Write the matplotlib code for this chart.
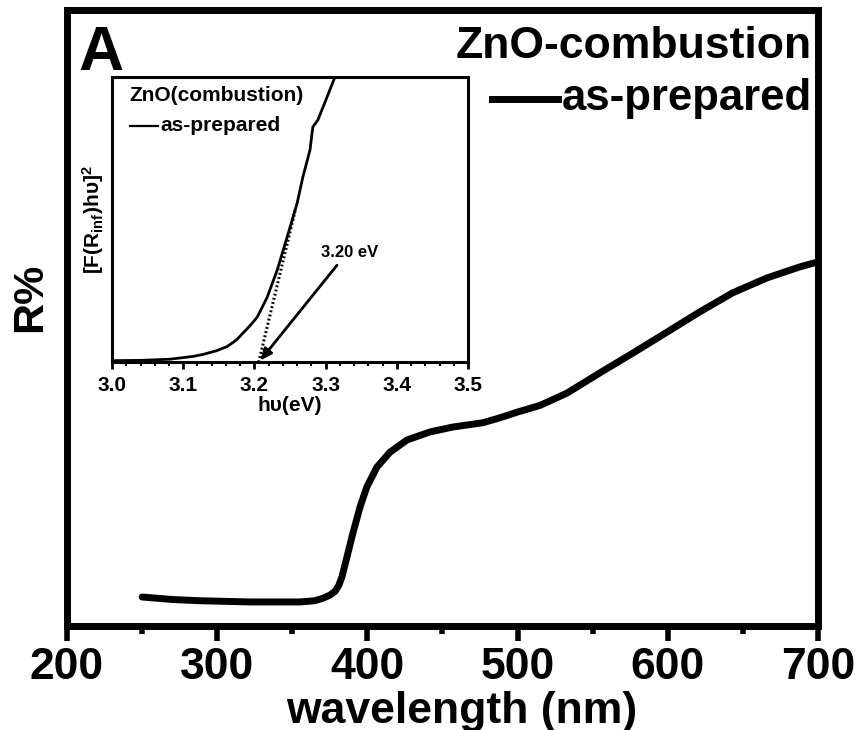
import numpy as np
import matplotlib
matplotlib.use("Agg")
import matplotlib.pyplot as plt
from matplotlib.ticker import MultipleLocator, NullLocator, FormatStrFormatter

plt.rcParams['font.family'] = ['Liberation Sans', 'DejaVu Sans']
plt.rcParams['font.weight'] = 'bold'
plt.rcParams['mathtext.fontset'] = 'custom'
plt.rcParams['mathtext.rm'] = 'Liberation Sans:bold'
plt.rcParams['mathtext.default'] = 'rm'

# main spectrum: wavelength (nm) vs R%
wavelength = [250, 270, 288, 305, 322, 340, 355, 365, 370.4, 375, 378.4, 381,
              383.1, 386.4, 390.4, 395.1, 399.7, 406.4, 415.0, 426.4, 441.7,
              457.0, 477.0, 488.3, 499.6, 514.9, 532.9, 554.9, 576.8, 599.5,
              621.4, 643.4, 666.1, 688.0, 700]
reflect = [4.7, 4.3, 4.1, 4.0, 3.9, 3.9, 3.9, 4.1, 4.5, 5.0, 5.6, 6.6,
           8.0, 11.2, 15.1, 19.3, 22.6, 25.8, 28.2, 30.2, 31.5,
           32.3, 33.0, 33.8, 34.7, 35.8, 37.8, 41.1, 44.3, 47.7,
           51.0, 54.1, 56.5, 58.3, 59.1]

# inset: Kubelka-Munk plot
hv = [3.000, 3.040, 3.081, 3.114, 3.128, 3.147, 3.162, 3.175, 3.184, 3.195,
      3.204, 3.218, 3.232, 3.246, 3.260, 3.268, 3.278, 3.282, 3.289, 3.302,
      3.313, 3.320]
km = [0.005, 0.006, 0.010, 0.020, 0.027, 0.040, 0.055, 0.078, 0.102, 0.131,
      0.158, 0.228, 0.323, 0.439, 0.558, 0.649, 0.744, 0.825, 0.849, 0.930,
      1.000, 1.040]
tangent_x = [3.206, 3.258]
tangent_y = [0.0, 0.54]
band_gap = 3.20

fig = plt.figure(figsize=(8.65, 7.3), dpi=100)
ax = fig.add_axes([0.0775, 0.1425, 0.868, 0.8438])
ax.plot(wavelength, reflect, color='black', lw=5, solid_capstyle='round',
        solid_joinstyle='round')
ax.set_xlim(200, 700)
ax.set_ylim(0, 100)
ax.xaxis.set_major_locator(MultipleLocator(100))
ax.xaxis.set_minor_locator(MultipleLocator(50))
ax.yaxis.set_major_locator(NullLocator())
for s in ax.spines.values():
    s.set_linewidth(5)
ax.tick_params(axis='x', which='major', direction='out', length=11, width=4,
               labelsize=32, pad=4)
ax.tick_params(axis='x', which='minor', direction='out', length=6, width=4)
for lab in ax.get_xticklabels():
    lab.set_fontweight('bold')
ax.set_xlabel('wavelength (nm)', fontsize=32, fontweight='bold')
ax.xaxis.set_label_coords(0.526, -0.105)
ax.set_ylabel('R%', fontsize=31, fontweight='bold')
ax.yaxis.set_label_coords(-0.022, 0.534)

ax.text(0.015, 0.9026, 'A', transform=ax.transAxes, fontsize=45,
        fontweight='bold', ha='left', va='baseline')
ax.text(0.992, 0.922, 'ZnO-combustion', transform=ax.transAxes, fontsize=32,
        fontweight='bold', ha='right', va='baseline')
ax.plot([0.566, 0.654], [0.8555, 0.8555], transform=ax.transAxes,
        color='black', lw=5)
ax.text(0.659, 0.8377, 'as-prepared', transform=ax.transAxes, fontsize=31.5,
        fontweight='bold', ha='left', va='baseline')

# inset
ins = fig.add_axes([0.1295, 0.504, 0.4116, 0.3904])
ins.plot(hv, km, color='black', lw=2)
ins.plot(tangent_x, tangent_y, color='black', lw=2.2, linestyle=(0, (0.6, 0.8)))
ins.set_xlim(3.0, 3.5)
ins.set_ylim(0, 1)
ins.xaxis.set_major_locator(MultipleLocator(0.1))
ins.xaxis.set_minor_locator(MultipleLocator(0.02))
ins.yaxis.set_major_locator(NullLocator())
for s in ins.spines.values():
    s.set_linewidth(2.2)
ins.tick_params(axis='x', which='major', direction='out', length=5, width=2,
                labelsize=15, pad=5)
ins.tick_params(axis='x', which='minor', direction='out', length=3, width=1.5)
ins.xaxis.set_major_formatter(FormatStrFormatter('%.1f'))
for lab in ins.get_xticklabels():
    lab.set_fontweight('bold')
ins.set_xlabel('hυ(eV)', fontsize=15, fontweight='bold', labelpad=1)
ins.set_ylabel('[F(R$_{inf}$)hυ]$^2$', fontsize=15, fontweight='bold',
               labelpad=4)
ins.text(0.05, 0.935, 'ZnO(combustion)', transform=ins.transAxes, fontsize=15,
         fontweight='bold', ha='left', va='center')
ins.plot([0.05, 0.13], [0.83, 0.83], transform=ins.transAxes, color='black',
         lw=1.6)
ins.text(0.135, 0.83, 'as-prepared', transform=ins.transAxes, fontsize=15,
         fontweight='bold', ha='left', va='center')
ins.annotate('', xy=(band_gap + 0.008, 0.005), xytext=(3.316, 0.34),
             arrowprops=dict(arrowstyle='-|>,head_length=0.7,head_width=0.3',
                             color='black', lw=2, shrinkA=0, shrinkB=0))
ins.text(3.334, 0.385, '%.2f eV' % band_gap, fontsize=12, fontweight='bold',
         ha='center', va='center')

fig.savefig('out.png', dpi=100)
